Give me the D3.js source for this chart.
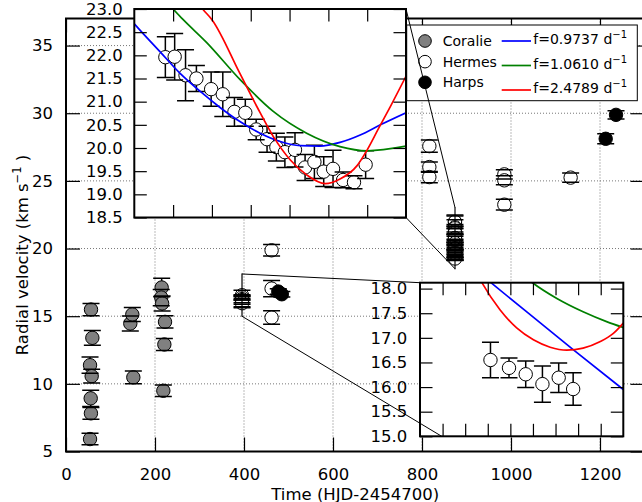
<!DOCTYPE html>
<html>
<head>
<meta charset="utf-8">
<script src="https://cdn.jsdelivr.net/npm/d3@7"></script>
<style>
body { margin: 0; background: #fff; }
svg text { font-family: "DejaVu Sans", sans-serif; fill: #000; }
</style>
</head>
<body>
<svg id="chart" width="642" height="502"></svg>
<script>
// ---- data: [time (HJD-2454700), RV (km/s), error] ----
var coralie = [
    [54, 5.92, 0.43], [56, 7.82, 0.44], [55.5, 8.93, 0.6], [54, 11.38, 0.6],
    [57.7, 10.57, 0.5], [59.2, 13.40, 0.55], [56.2, 15.49, 0.45],
    [144.5, 14.46, 0.55], [149, 15.13, 0.52], [151.3, 10.48, 0.47],
    [215, 17.12, 0.68], [214, 16.38, 0.6], [216, 15.94, 0.55],
    [222.5, 14.58, 0.45], [221, 12.91, 0.45], [218.7, 9.49, 0.43]
];
var hermes = [
    [462, 19.87, 0.43], [462, 17.04, 0.6], [462, 14.90, 0.5],
    [816.5, 27.57, 0.46], [816.5, 26.02, 0.38], [816.5, 25.28, 0.42],
    [985, 25.48, 0.35], [985, 25.04, 0.33], [985, 23.24, 0.4],
    [1134, 25.24, 0.35]
];
var harps = [
    [477, 16.82, 0.2], [485, 16.62, 0.2],
    [1212.8, 28.11, 0.37], [1236, 29.88, 0.3]
];
// hermes, night shown in the upper inset
var hermesNight1 = [
    [874.040, 21.96, 0.44], [874.052, 21.97, 0.50], [874.066, 21.57, 0.55], [874.080, 21.50, 0.28],
    [874.099, 21.27, 0.37], [874.114, 21.16, 0.48], [874.129, 20.78, 0.31], [874.143, 20.76, 0.29],
    [874.157, 20.40, 0.22], [874.171, 20.19, 0.28], [874.183, 20.02, 0.30], [874.194, 19.91, 0.33],
    [874.207, 19.96, 0.37], [874.220, 19.58, 0.28], [874.232, 19.70, 0.36], [874.244, 19.49, 0.32],
    [874.256, 19.55, 0.40], [874.269, 19.31, 0.17], [874.283, 19.26, 0.14], [874.298, 19.64, 0.30]
];
// hermes, night shown in the lower inset
var hermesNight2 = [
    [395.456, 16.55, 0.36], [395.497, 16.39, 0.20], [395.534, 16.26, 0.27],
    [395.571, 16.06, 0.37], [395.607, 16.19, 0.30], [395.639, 15.96, 0.33]
];

// model curves: [time, RV]
var fitBlue1 = [[874.000, 22.68], [874.007, 22.55], [874.033, 22.08], [874.059, 21.61], [874.085, 21.22],
    [874.110, 20.88], [874.136, 20.57], [874.162, 20.32], [874.188, 20.14], [874.214, 20.05],
    [874.239, 20.04], [874.265, 20.12], [874.291, 20.28], [874.317, 20.50], [874.350, 20.76]];
var fitGreen1 = [[874.040, 23.20], [874.050, 23.00], [874.063, 22.77], [874.093, 22.28], [874.136, 21.48],
    [874.179, 20.79], [874.222, 20.32], [874.265, 20.03], [874.300, 19.94], [874.350, 20.04]];
var fitRed1 = [[874.075, 23.30], [874.088, 23.00], [874.100, 22.77], [874.136, 21.61], [874.158, 20.89],
    [874.179, 20.25], [874.201, 19.74], [874.222, 19.42], [874.246, 19.23], [874.265, 19.33],
    [874.287, 19.62], [874.300, 19.96], [874.314, 20.40], [874.330, 20.90], [874.350, 21.55]];
var fitBlue2 = [[395.430, 18.32], [395.457, 18.12], [395.639, 16.76], [395.750, 15.95]];
var fitGreen2 = [[395.535, 18.22], [395.549, 18.12], [395.603, 17.80], [395.661, 17.53], [395.713, 17.33], [395.750, 17.21]];
var fitRed2 = [[395.425, 18.32], [395.437, 18.12], [395.477, 17.57], [395.514, 17.20], [395.551, 16.96],
    [395.588, 16.81], [395.625, 16.75], [395.661, 16.79], [395.698, 16.92], [395.728, 17.09], [395.750, 17.30]];

// ticks and labels
var mainXTicks = [0, 200, 400, 600, 800, 1000, 1200];
var mainYTicks = [5, 10, 15, 20, 25, 30, 35];
var ins1YTicks = [18.5, 19.0, 19.5, 20.0, 20.5, 21.0, 21.5, 22.0, 22.5, 23.0];
var ins1XTicks = [874.05, 874.10, 874.15, 874.20, 874.25, 874.30];
var ins2YTicks = [15.0, 15.5, 16.0, 16.5, 17.0, 17.5, 18.0];
var ins2XTicks = [395.35, 395.40, 395.45, 395.50, 395.55, 395.60, 395.65, 395.70];
var seriesLabels = ['Coralie', 'Hermes', 'Harps'];
var fitLabels = ['f=0.9737', 'f=1.0610', 'f=2.4789'];

// ---- layout ----
var mainBox = { left: 66, right: 644.5, top: 18.5, bottom: 451.5 };
var ins1Box = { left: 134.3, right: 406, top: 9, bottom: 217.5 };
var ins2Box = { left: 420, right: 623.3, top: 282.7, bottom: 436.3 };
var fillColors = ['#808080', '#ffffff', '#000000'];
var fitColors = ['#0000ff', '#008000', '#ff0000'];
var fontSize = 16.5;
var markerR = 6.7;

var svg = d3.select('#chart');

var x = d3.scaleLinear().domain([0, 1300]).range([mainBox.left, mainBox.right]);
var y = d3.scaleLinear().domain([5, 37]).range([mainBox.bottom, mainBox.top]);
var x1 = d3.scaleLinear().domain([874.0, 874.35]).range([ins1Box.left, ins1Box.right]);
var y1 = d3.scaleLinear().domain([18.5, 23.0]).range([ins1Box.bottom, ins1Box.top]);
var x2 = d3.scaleLinear().domain([395.3, 395.75]).range([ins2Box.left, ins2Box.right]);
var y2 = d3.scaleLinear().domain([15.0, 18.12]).range([ins2Box.bottom, ins2Box.top]);

function addClip(id, box) {
    svg.append('clipPath').attr('id', id).append('rect')
        .attr('x', box.left).attr('y', box.top)
        .attr('width', box.right - box.left).attr('height', box.bottom - box.top);
}
addClip('clipMain', mainBox);
addClip('clipIns1', ins1Box);
addClip('clipIns2', ins2Box);

// error bars: bar, then marker, then caps on top
function errorSeries(g, data, sx, sy, fill) {
    g.selectAll(null).data(data).enter().append('line')
        .attr('x1', function (d) { return sx(d[0]); })
        .attr('x2', function (d) { return sx(d[0]); })
        .attr('y1', function (d) { return sy(d[1] - d[2]); })
        .attr('y2', function (d) { return sy(d[1] + d[2]); })
        .attr('stroke', '#000').attr('stroke-width', 1.5);
    g.selectAll(null).data(data).enter().append('circle')
        .attr('cx', function (d) { return sx(d[0]); })
        .attr('cy', function (d) { return sy(d[1]); })
        .attr('r', markerR)
        .attr('fill', fill).attr('stroke', '#000').attr('stroke-width', 1);
    [-1, 1].forEach(function (s) {
        g.selectAll(null).data(data).enter().append('line')
            .attr('x1', function (d) { return sx(d[0]) - 8.5; })
            .attr('x2', function (d) { return sx(d[0]) + 8.5; })
            .attr('y1', function (d) { return sy(d[1] + s * d[2]); })
            .attr('y2', function (d) { return sy(d[1] + s * d[2]); })
            .attr('stroke', '#000').attr('stroke-width', 1.5);
    });
}

// inward ticks on all four sides, labels only where asked
function ticks(g, box, sx, sy, xVals, yVals, size, opts) {
    var fmtX = opts.xLabels ? function (d) { return d; } : function () { return ''; };
    var fmtY = opts.yFormat || function () { return ''; };
    var axes = [
        [d3.axisBottom(sx).tickValues(xVals).tickFormat(fmtX).tickPadding(opts.xPad || 0), 0, box.bottom],
        [d3.axisTop(sx).tickValues(xVals).tickFormat(''), 0, box.top],
        [d3.axisLeft(sy).tickValues(yVals).tickFormat(fmtY).tickPadding(opts.yPad || 0), box.left, 0],
        [d3.axisRight(sy).tickValues(yVals).tickFormat(''), box.right, 0]
    ];
    axes.forEach(function (a) {
        g.append('g')
            .attr('transform', 'translate(' + a[1] + ',' + a[2] + ')')
            .call(a[0].tickSizeInner(-size).tickSizeOuter(0))
            .attr('font-family', '"DejaVu Sans", sans-serif')
            .attr('font-size', fontSize)
            .call(function (s) {
                s.select('.domain').remove();
                s.selectAll('.tick line').attr('stroke', '#000').attr('stroke-width', 1.2);
                s.selectAll('.tick text').attr('fill', '#000');
            });
    });
}

function spine(g, box) {
    g.append('rect')
        .attr('x', box.left).attr('y', box.top)
        .attr('width', box.right - box.left).attr('height', box.bottom - box.top)
        .attr('fill', 'none').attr('stroke', '#000').attr('stroke-width', 2);
}

// ---- main axes ----
var main = svg.append('g');

main.append('g').selectAll('line').data(mainXTicks.slice(1)).enter().append('line')
    .attr('x1', function (d) { return x(d); }).attr('x2', function (d) { return x(d); })
    .attr('y1', mainBox.top).attr('y2', mainBox.bottom)
    .attr('stroke', '#777').attr('stroke-width', 1).attr('stroke-dasharray', '1,2');
main.append('g').selectAll('line').data(mainYTicks.slice(1)).enter().append('line')
    .attr('x1', mainBox.left).attr('x2', mainBox.right)
    .attr('y1', function (d) { return y(d); }).attr('y2', function (d) { return y(d); })
    .attr('stroke', '#777').attr('stroke-width', 1).attr('stroke-dasharray', '1,2');

var mainData = main.append('g').attr('clip-path', 'url(#clipMain)');
errorSeries(mainData, coralie, x, y, fillColors[0]);
errorSeries(mainData, hermes.concat(hermesNight2, hermesNight1), x, y, fillColors[1]);
errorSeries(mainData, harps, x, y, fillColors[2]);

ticks(main, mainBox, x, y, mainXTicks, mainYTicks, 14,
    { xLabels: true, xPad: 16.3, yPad: 13, yFormat: function (d) { return d; } });
spine(main, mainBox);

// zoom rectangles in the main axes
[[x(874.0), x(874.35), y(23.0), y(18.5)], [x(395.3), x(395.75), y(18.12), y(15.0)]].forEach(function (r) {
    main.append('rect')
        .attr('x', r[0]).attr('y', r[2])
        .attr('width', r[1] - r[0]).attr('height', r[3] - r[2])
        .attr('fill', 'none').attr('stroke', '#000').attr('stroke-width', 1);
});

// axis labels
svg.append('text')
    .attr('x', (mainBox.left + mainBox.right) / 2).attr('y', 499.5)
    .attr('text-anchor', 'middle').attr('font-size', fontSize)
    .text('Time (HJD-2454700)');
var yl = svg.append('text')
    .attr('transform', 'translate(28,255) rotate(-90)')
    .attr('text-anchor', 'middle').attr('font-size', fontSize);
yl.append('tspan').text('Radial velocity (km s');
yl.append('tspan').attr('dy', -7).attr('font-size', 11.5).text('\u22121');
yl.append('tspan').attr('dy', 7).text(' )');

// ---- legend ----
var leg = svg.append('g').attr('transform', 'translate(406.7,25)');
leg.append('rect').attr('width', 230.6).attr('height', 75.7)
    .attr('fill', '#fff').attr('stroke', '#000').attr('stroke-width', 1);
seriesLabels.forEach(function (lab, i) {
    var ry = 16 + i * 20.65;
    leg.append('circle').attr('cx', 18.3).attr('cy', ry).attr('r', 6.3)
        .attr('fill', fillColors[i]).attr('stroke', '#000').attr('stroke-width', 1);
    leg.append('text').attr('x', 36).attr('y', ry + 5).attr('font-size', 14).text(lab);
});
fitLabels.forEach(function (lab, i) {
    var ry = 16 + i * 24.5;
    leg.append('line').attr('x1', 95).attr('x2', 124.3).attr('y1', ry).attr('y2', ry)
        .attr('stroke', fitColors[i]).attr('stroke-width', 1.7);
    var t = leg.append('text').attr('x', 126.6).attr('y', ry + 3).attr('font-size', 14);
    t.append('tspan').text(lab + ' d');
    t.append('tspan').attr('dy', -6).attr('font-size', 10).text('\u22121');
});

// ---- insets ----
var line = function (sx, sy) {
    return d3.line()
        .x(function (d) { return sx(d[0]); })
        .y(function (d) { return sy(d[1]); })
        .curve(d3.curveMonotoneX);
};

function inset(box, clipId, sx, sy, pts, fits, xT, yT, yPad) {
    var g = svg.append('g');
    g.append('rect')
        .attr('x', box.left).attr('y', box.top)
        .attr('width', box.right - box.left).attr('height', box.bottom - box.top)
        .attr('fill', '#fff');
    var inner = g.append('g').attr('clip-path', 'url(#' + clipId + ')');
    errorSeries(inner, pts, sx, sy, fillColors[1]);
    fits.forEach(function (f, i) {
        inner.append('path').datum(f)
            .attr('d', line(sx, sy))
            .attr('fill', 'none').attr('stroke', fitColors[i]).attr('stroke-width', 1.7);
    });
    ticks(g, box, sx, sy, xT, yT, 12.5, { yPad: yPad, yFormat: d3.format('.1f') });
    spine(g, box);
}
inset(ins1Box, 'clipIns1', x1, y1, hermesNight1, [fitBlue1, fitGreen1, fitRed1], ins1XTicks, ins1YTicks, 11.6);
inset(ins2Box, 'clipIns2', x2, y2, hermesNight2, [fitBlue2, fitGreen2, fitRed2], ins2XTicks, ins2YTicks, 12.7);

// ---- connector lines ----
var connectors = [
    [ins1Box.right, ins1Box.top, x(874.35), y(23.0)],
    [ins1Box.right, ins1Box.bottom, x(874.35), y(18.5)],
    [x(395.3), y(18.12), ins2Box.left, ins2Box.top],
    [x(395.3), y(15.0), x2(395.348), ins2Box.bottom]
];
svg.append('g').selectAll('line').data(connectors).enter().append('line')
    .attr('x1', function (d) { return d[0]; }).attr('y1', function (d) { return d[1]; })
    .attr('x2', function (d) { return d[2]; }).attr('y2', function (d) { return d[3]; })
    .attr('stroke', '#000').attr('stroke-width', 1);
</script>
</body>
</html>
